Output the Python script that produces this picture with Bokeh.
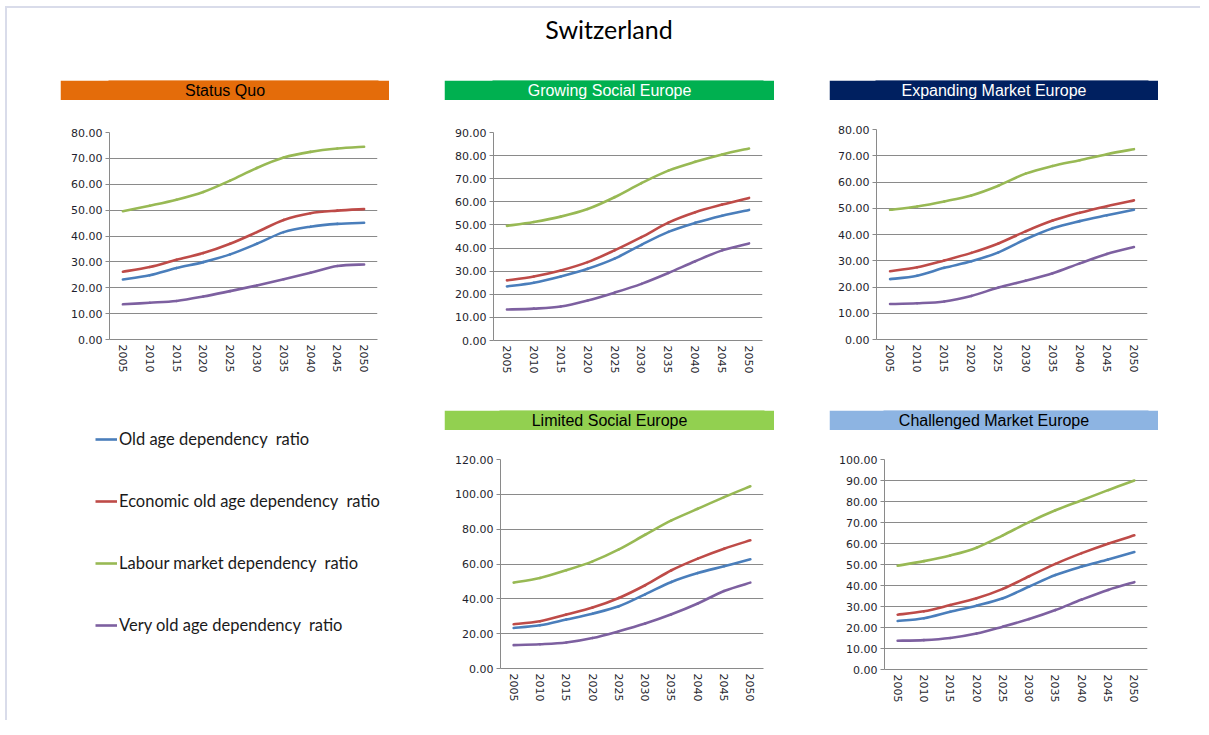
from bokeh.plotting import figure
from bokeh.models import (Range1d, FixedTicker, NumeralTickFormatter, Legend, LegendItem,
                          Label, ColumnDataSource)
from bokeh.layouts import column, row, Spacer
from bokeh.embed import file_html
from bokeh.resources import INLINE

years = [2005, 2010, 2015, 2020, 2025, 2030, 2035, 2040, 2045, 2050]

series_names = ["Old age dependency  ratio",
                "Economic old age dependency  ratio",
                "Labour market dependency  ratio",
                "Very old age dependency  ratio"]
series_colors = ["#4A7EBB", "#BE4B48", "#98B954", "#7D60A0"]

# Status Quo
sq_old = [23.2, 24.8, 27.6, 29.9, 32.9, 37.0, 41.5, 43.6, 44.7, 45.1]
sq_econ = [26.2, 28.0, 30.8, 33.4, 37.0, 41.5, 46.2, 48.8, 49.8, 50.4]
sq_labour = [49.6, 51.7, 54.0, 57.0, 61.4, 66.3, 70.3, 72.5, 73.8, 74.5]
sq_very = [13.6, 14.2, 14.9, 16.6, 18.7, 20.9, 23.3, 25.8, 28.4, 29.0]

# Growing Social Europe
gse_old = [23.4, 25.0, 27.7, 31.0, 35.4, 41.4, 47.0, 50.9, 54.0, 56.5]
gse_econ = [26.0, 27.7, 30.3, 33.9, 39.0, 44.7, 51.0, 55.5, 58.8, 61.7]
gse_labour = [49.6, 51.3, 53.6, 56.9, 62.0, 68.1, 73.5, 77.3, 80.5, 83.1]
gse_very = [13.4, 13.8, 14.7, 17.3, 20.7, 24.5, 29.2, 34.3, 39.0, 42.0]

# Expanding Market Europe
eme_old = [23.0, 24.3, 27.3, 29.8, 33.2, 38.2, 42.4, 45.1, 47.3, 49.4]
eme_econ = [26.0, 27.5, 30.1, 33.0, 36.6, 41.2, 45.3, 48.3, 50.8, 53.0]
eme_labour = [49.4, 50.7, 52.6, 54.9, 58.6, 63.2, 66.1, 68.3, 70.6, 72.5]
eme_very = [13.5, 13.8, 14.5, 16.6, 19.8, 22.4, 25.2, 29.0, 32.6, 35.2]

# Limited Social Europe
lse_old = [23.3, 24.8, 28.1, 31.5, 35.7, 42.6, 49.7, 54.8, 58.7, 62.7]
lse_econ = [25.4, 27.1, 31.0, 35.0, 40.5, 47.8, 56.4, 63.1, 68.8, 73.6]
lse_labour = [49.3, 52.0, 56.4, 61.5, 68.4, 76.8, 85.0, 91.7, 98.4, 104.6]
lse_very = [13.4, 13.9, 14.9, 17.5, 21.4, 25.8, 31.1, 37.3, 44.5, 49.3]

# Challenged Market Europe
cme_old = [23.1, 24.4, 27.5, 30.4, 33.9, 39.5, 45.0, 49.0, 52.4, 55.9]
cme_econ = [26.1, 27.7, 30.7, 33.9, 38.4, 44.4, 50.3, 55.4, 59.9, 63.9]
cme_labour = [49.4, 51.6, 54.3, 58.0, 63.9, 70.2, 75.8, 80.6, 85.4, 90.0]
cme_very = [13.7, 14.0, 15.0, 17.1, 20.4, 24.0, 28.3, 33.3, 37.9, 41.6]

GRID = "#8A8A8A"
TICK_FONT = "DejaVu Sans"
LABEL_COLOR = "#1F1F2E"
LINE_W = 2.6


def smooth_source(xs, ys):
    """Excel-style smoothed line: one cubic Bezier per pair of neighbouring points."""
    n = len(xs)
    d = dict(x0=[], y0=[], x1=[], y1=[], cx0=[], cy0=[], cx1=[], cy1=[])
    for i in range(n - 1):
        im, ip2 = max(i - 1, 0), min(i + 2, n - 1)
        d["x0"].append(xs[i]); d["y0"].append(ys[i])
        d["x1"].append(xs[i + 1]); d["y1"].append(ys[i + 1])
        d["cx0"].append(xs[i] + (xs[i + 1] - xs[im]) / 6.0)
        d["cy0"].append(ys[i] + (ys[i + 1] - ys[im]) / 6.0)
        d["cx1"].append(xs[i + 1] - (xs[ip2] - xs[i]) / 6.0)
        d["cy1"].append(ys[i + 1] - (ys[ip2] - ys[i]) / 6.0)
    return ColumnDataSource(data=d)


def header(text, bg, fg, width, left, right):
    # borders equal to the panel below, so the aligned frames do not shift the label
    h = figure(width=width, height=20, toolbar_location=None, output_backend="svg",
               x_range=Range1d(0, 1), y_range=Range1d(0, 1),
               min_border_left=left, min_border_right=right,
               min_border_top=1, min_border_bottom=1)
    h.axis.visible = False
    h.grid.visible = False
    h.background_fill_color = bg
    h.border_fill_color = bg
    h.outline_line_color = bg
    h.outline_line_width = 2
    h.outline_line_join = "miter"
    cx = (width / 2.0 - left) / float(width - left - right)
    h.add_layout(Label(x=cx, y=0.5, text=text, text_align="center", text_baseline="middle",
                       text_font="Liberation Sans", text_font_size="16px", text_color=fg))
    return h


def panel(series, ymax, ystep, width, height, left, right, top, bottom):
    p = figure(width=width, height=height, toolbar_location=None, output_backend="svg",
               x_range=Range1d(2002.5, 2052.5), y_range=Range1d(0, ymax),
               min_border_left=left, min_border_right=right,
               min_border_top=top, min_border_bottom=bottom)
    p.outline_line_color = None
    p.background_fill_color = "white"
    p.border_fill_color = "white"
    for vals, col in zip(series, series_colors):
        p.bezier("x0", "y0", "x1", "y1", "cx0", "cy0", "cx1", "cy1",
                 source=smooth_source(years, vals),
                 line_color=col, line_width=LINE_W, line_cap="round")
    p.xgrid.visible = False
    p.ygrid.grid_line_color = GRID
    p.ygrid.grid_line_width = 1
    p.yaxis.ticker = FixedTicker(ticks=list(range(0, ymax + 1, ystep)))
    p.yaxis.formatter = NumeralTickFormatter(format="0.00")
    p.xaxis.ticker = FixedTicker(ticks=years)
    p.xaxis.major_label_orientation = "vertical"
    for ax in (p.xaxis[0], p.yaxis[0]):
        ax.axis_line_color = GRID
        ax.axis_line_width = 1
        ax.major_tick_line_color = GRID
        ax.minor_tick_line_color = None
        ax.major_label_text_font = TICK_FONT
        ax.major_label_text_font_size = "11px"
        ax.major_label_text_color = LABEL_COLOR
    p.yaxis.major_tick_out = 4
    p.yaxis.major_tick_in = 0
    p.yaxis.major_label_standoff = 3
    p.xaxis.major_tick_out = 0
    p.xaxis.major_tick_in = 0
    p.xaxis.major_label_standoff = 5
    return p


# Title
title_fig = figure(width=1193, height=50, toolbar_location=None, output_backend="svg",
                   x_range=Range1d(0, 1), y_range=Range1d(0, 1), min_border=0)
title_fig.axis.visible = False
title_fig.grid.visible = False
title_fig.outline_line_color = None
title_fig.add_layout(Label(x=0.5, y=0.6, x_offset=5, text="Switzerland", text_align="center",
                           text_baseline="middle", text_font="Lato", text_font_size="25px",
                           text_color="#000000"))

# Row 1
h1 = header("Status Quo", "#E46C0A", "#000000", 329, 49, 12)
p1 = panel([sq_old, sq_econ, sq_labour, sq_very], 80, 10, 329, 290, 49, 12, 32, 51)
h2 = header("Growing Social Europe", "#00B050", "#FFFFFF", 330, 49, 12)
p2 = panel([gse_old, gse_econ, gse_labour, gse_very], 90, 10, 330, 290, 49, 12, 32, 50)
h3 = header("Expanding Market Europe", "#002060", "#FFFFFF", 329, 47, 11)
p3 = panel([eme_old, eme_econ, eme_labour, eme_very], 80, 10, 329, 290, 47, 11, 29, 51)

# Row 2
h4 = header("Limited Social Europe", "#92D050", "#000000", 330, 56, 11)
p4 = panel([lse_old, lse_econ, lse_labour, lse_very], 120, 20, 330, 290, 56, 11, 29, 52)
h5 = header("Challenged Market Europe", "#8DB4E2", "#000000", 329, 55, 11)
p5 = panel([cme_old, cme_econ, cme_labour, cme_very], 100, 10, 329, 290, 55, 11, 29, 51)

# Legend panel: the series are drawn here too but fall outside its (0,1) ranges
lf = figure(width=382, height=290, toolbar_location=None, output_backend="svg",
            x_range=Range1d(0, 1), y_range=Range1d(0, 1),
            min_border_left=69, min_border_right=0, min_border_top=0, min_border_bottom=0)
lf.axis.visible = False
lf.grid.visible = False
lf.outline_line_color = None
items = []
for name, col, vals in zip(series_names, series_colors, [sq_old, sq_econ, sq_labour, sq_very]):
    r = lf.line(x=years, y=vals, line_color=col, line_width=LINE_W)
    items.append(LegendItem(label=name, renderers=[r]))
leg = Legend(items=items, location="top_left", margin=10, padding=9, spacing=42,
             glyph_width=22, glyph_height=20, label_standoff=2, label_height=20,
             label_text_font="Lato", label_text_font_size="16.5px", label_text_color="#1a1a1a",
             border_line_alpha=0, background_fill_alpha=0)
lf.add_layout(leg, "center")

row1 = row([Spacer(width=53), column([h1, p1]), Spacer(width=55), column([h2, p2]),
            Spacer(width=55), column([h3, p3])])
row2 = row([lf, Spacer(width=55), column([h4, p4]), Spacer(width=55), column([h5, p5])])

inner = column([title_fig, Spacer(height=22), row1, Spacer(height=20), row2],
               styles={"border-top": "2px solid #D9DCEA", "border-left": "2px solid #D9DCEA"})
layout = column([Spacer(height=6), row([Spacer(width=5), inner])])

open("out.html", "w").write(file_html(layout, INLINE))
